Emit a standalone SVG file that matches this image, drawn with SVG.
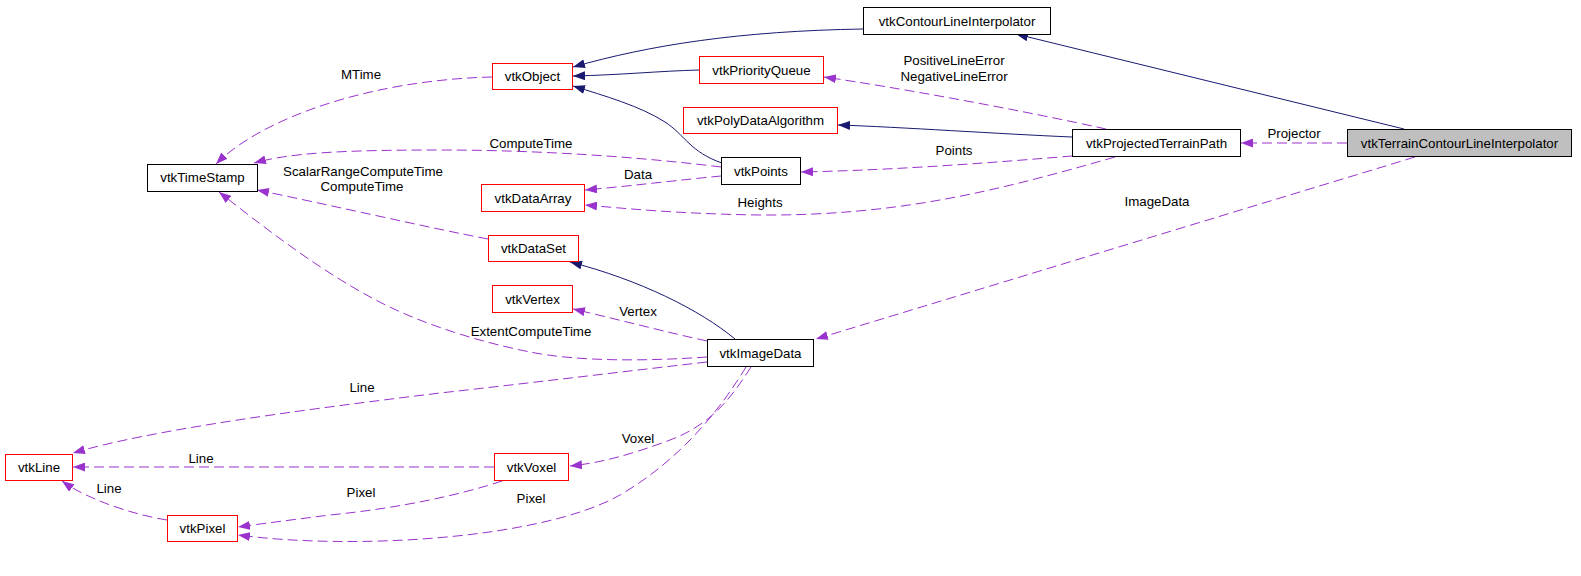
<svg xmlns="http://www.w3.org/2000/svg" width="1581" height="576" viewBox="0 0 1581 576">
<style>
text{font-family:"Liberation Sans",Arial,sans-serif;font-size:13.3px;fill:#000;text-anchor:middle}
.n rect{fill:#fff;stroke:#000;stroke-width:1}
.n.r rect{stroke:#f00}
.n.g rect{fill:#bfbfbf}
.inh{fill:none;stroke:#191970;stroke-width:1;marker-end:url(#an)}
.use{fill:none;stroke:#9a32cd;stroke-width:1;stroke-dasharray:10,5;marker-end:url(#ap)}
</style>
<defs>
<marker id="an" viewBox="0 0 12 9" refX="12" refY="4.5" markerWidth="12" markerHeight="9" markerUnits="userSpaceOnUse" orient="auto"><path d="M0,0 L12,4.5 L0,9 z" fill="#191970"/></marker>
<marker id="ap" viewBox="0 0 12 9" refX="12" refY="4.5" markerWidth="12" markerHeight="9" markerUnits="userSpaceOnUse" orient="auto"><path d="M0,0 L12,4.5 L0,9 z" fill="#9a32cd"/></marker>
</defs>
<rect width="1581" height="576" fill="#fff"/>
<g id="connectors">
<path class="inh" d="M863,29 C740,31 650,45 573,67"/>
<path class="inh" d="M699,70 C660,71 620,75 573,76"/>
<path class="inh" d="M722,163 C690,152 685,135 665,122 C640,106 605,96 573,86"/>
<path class="inh" d="M1404,129 L1016,34"/>
<path class="inh" d="M1072,137 C1000,134 900,127 838,125"/>
<path class="inh" d="M735,339 C700,310 640,280 570,262"/>
<path class="use" d="M492,77 C370,80 262,118 216,164"/>
<path class="use" d="M721,167 C640,157 540,150 440,150 C340,150 290,153 254,163"/>
<path class="use" d="M721,176 C680,180 630,186 585,190"/>
<path class="use" d="M1072,156 C1000,162 900,170 801,172"/>
<path class="use" d="M1115,157 C1000,190 900,216 760,215 C680,214 620,208 585,205"/>
<path class="use" d="M1106,129 C1020,110 900,88 824,77"/>
<path class="use" d="M1347,143 L1241,143"/>
<path class="use" d="M1415,157 L816,339"/>
<path class="use" d="M488,239 C430,228 330,205 257,190"/>
<path class="use" d="M707,357 C650,361 580,362 530,352 S420,324 372,298 S280,240 219,192"/>
<path class="use" d="M707,362 C620,372 530,383 440,393 C300,410 150,430 73,453"/>
<path class="use" d="M707,341 C670,333 620,320 573,309"/>
<path class="use" d="M751,367 C730,400 710,425 670,440 C630,455 600,463 570,466"/>
<path class="use" d="M746,367 C720,410 680,460 620,495 C540,540 350,550 238,535"/>
<path class="use" d="M494,467 L73,467"/>
<path class="use" d="M502,481 C460,495 400,508 330,515 C290,520 260,524 238,527"/>
<path class="use" d="M167,520 C135,515 88,500 62,481"/>
<text x="361" y="79">MTime</text>
<text x="531" y="148">ComputeTime</text>
<text x="638" y="179">Data</text>
<text x="954" y="155">Points</text>
<text x="760" y="207">Heights</text>
<text x="954" y="65">PositiveLineError</text>
<text x="954" y="81">NegativeLineError</text>
<text x="1294" y="138">Projector</text>
<text x="1157" y="206">ImageData</text>
<text x="363" y="176">ScalarRangeComputeTime</text>
<text x="362" y="191">ComputeTime</text>
<text x="531" y="336">ExtentComputeTime</text>
<text x="362" y="392">Line</text>
<text x="638" y="316">Vertex</text>
<text x="638" y="443">Voxel</text>
<text x="531" y="503">Pixel</text>
<text x="201" y="463">Line</text>
<text x="361" y="497">Pixel</text>
<text x="109" y="493">Line</text>
</g>
<g id="vtkContourLineInterpolator" class="n"><rect x="863.5" y="7.5" width="187" height="27"/><text x="957" y="25.5">vtkContourLineInterpolator</text></g>
<g id="vtkObject" class="n r"><rect x="492.5" y="63.5" width="80" height="26"/><text x="532.5" y="81">vtkObject</text></g>
<g id="vtkPriorityQueue" class="n r"><rect x="699.5" y="56.5" width="124" height="27"/><text x="761.5" y="74.5">vtkPriorityQueue</text></g>
<g id="vtkPolyDataAlgorithm" class="n r"><rect x="683.5" y="107.5" width="154" height="26"/><text x="760.5" y="125">vtkPolyDataAlgorithm</text></g>
<g id="vtkProjectedTerrainPath" class="n"><rect x="1072.5" y="129.5" width="168" height="27"/><text x="1156.5" y="147.5">vtkProjectedTerrainPath</text></g>
<g id="vtkTerrainContourLineInterpolator" class="n g"><rect x="1347.5" y="129.5" width="224" height="27"/><text x="1459.5" y="147.5">vtkTerrainContourLineInterpolator</text></g>
<g id="vtkTimeStamp" class="n"><rect x="147.5" y="164.5" width="110" height="27"/><text x="202.5" y="182">vtkTimeStamp</text></g>
<g id="vtkPoints" class="n"><rect x="721.5" y="157.5" width="79" height="27"/><text x="761" y="175.5">vtkPoints</text></g>
<g id="vtkDataArray" class="n r"><rect x="481.5" y="184.5" width="103" height="27"/><text x="533" y="202.5">vtkDataArray</text></g>
<g id="vtkDataSet" class="n r"><rect x="488.5" y="235.5" width="90" height="26"/><text x="533.5" y="253">vtkDataSet</text></g>
<g id="vtkVertex" class="n r"><rect x="492.5" y="285.5" width="80" height="27"/><text x="532.5" y="303.5">vtkVertex</text></g>
<g id="vtkImageData" class="n"><rect x="707.5" y="339.5" width="106" height="27"/><text x="760.5" y="357.5">vtkImageData</text></g>
<g id="vtkLine" class="n r"><rect x="5.5" y="454.5" width="67" height="26"/><text x="39" y="472">vtkLine</text></g>
<g id="vtkVoxel" class="n r"><rect x="494.5" y="453.5" width="74" height="27"/><text x="531.5" y="471.5">vtkVoxel</text></g>
<g id="vtkPixel" class="n r"><rect x="167.5" y="515.5" width="70" height="26"/><text x="202.5" y="533">vtkPixel</text></g>
</svg>
